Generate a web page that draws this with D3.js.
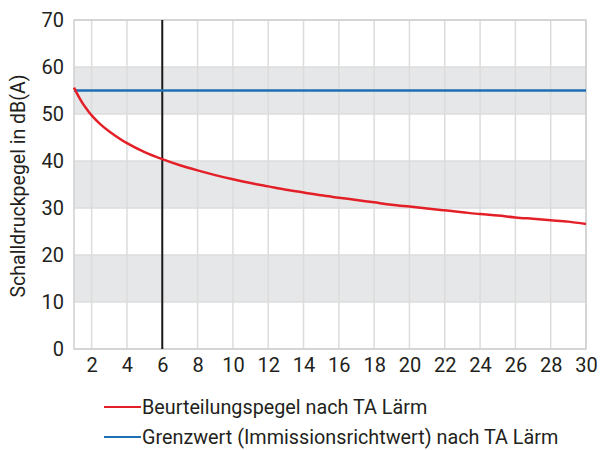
<!DOCTYPE html>
<html><head><meta charset="utf-8">
<script src="https://cdn.jsdelivr.net/npm/d3@7"></script>
<style>body{margin:0;background:#fff}</style>
</head><body>
<svg id="c" width="600" height="450"></svg>
<script>
const xValues = [1,1.25,1.5,1.75,2,2.5,3,4,5,6,7,8,9,10,11,12,13,14,15,16,17,18,19,20,21,22,23,24,25,26,27,28,29,30];
const beurteilungspegel = [55.6,53.8,52.2,50.9,49.7,47.8,46.3,43.8,41.9,40.4,39.1,38.0,37.0,36.1,35.3,34.6,33.9,33.3,32.7,32.2,31.7,31.2,30.7,30.3,29.9,29.5,29.1,28.7,28.4,28.0,27.7,27.4,27.1,26.6];
const grenzwert = 55;
const markerX = 6;
const xTicks = [2,4,6,8,10,12,14,16,18,20,22,24,26,28,30];
const yTicks = [0,10,20,30,40,50,60,70];
const bands = [[10,20],[30,40],[50,60]];
const legendLabels = ["Beurteilungspegel nach TA Lärm","Grenzwert (Immissionsrichtwert) nach TA Lärm"];
const yTitle = "Schalldruckpegel in dB(A)";

const font = "'Liberation Sans Narrow','Arial Narrow','Roboto',sans-serif";
const svg = d3.select("#c");
const L=74,R=586,T=20,B=349;
const x = d3.scaleLinear().domain([1,30]).range([L,R]);
const y = d3.scaleLinear().domain([0,70]).range([B,T]);

svg.selectAll(".band").data(bands).enter().append("rect")
  .attr("x",L).attr("width",R-L)
  .attr("y",d=>y(d[1])).attr("height",d=>y(d[0])-y(d[1]))
  .attr("fill","#e6e7e8");

svg.selectAll(".vg").data(xTicks).enter().append("line")
  .attr("x1",d=>x(d)).attr("x2",d=>x(d)).attr("y1",T).attr("y2",B)
  .attr("stroke","#dcdcdc").attr("stroke-width",1.5);
svg.selectAll(".hg").data(yTicks).enter().append("line")
  .attr("x1",L).attr("x2",R).attr("y1",d=>y(d)).attr("y2",d=>y(d))
  .attr("stroke","#dcdcdc").attr("stroke-width",1.5);
svg.append("rect").attr("x",L).attr("y",T).attr("width",R-L).attr("height",B-T)
  .attr("fill","none").attr("stroke","#cfcfcf").attr("stroke-width",1.5);

svg.append("line").attr("x1",x(markerX)).attr("x2",x(markerX)).attr("y1",T).attr("y2",B)
  .attr("stroke","#1a1a1a").attr("stroke-width",2);

svg.append("line").attr("x1",L).attr("x2",R).attr("y1",y(grenzwert)).attr("y2",y(grenzwert))
  .attr("stroke","#1f6fb5").attr("stroke-width",2.5);

const line = d3.line().x((d,i)=>x(xValues[i])).y(d=>y(d)).curve(d3.curveCatmullRom.alpha(0.5));
svg.append("path").datum(beurteilungspegel).attr("d",line)
  .attr("fill","none").attr("stroke","#e32028").attr("stroke-width",2.5);

// axes
const xAxis = svg.append("g").attr("transform",`translate(0,${B})`)
  .call(d3.axisBottom(x).tickValues(xTicks).tickSize(0).tickPadding(9));
xAxis.select(".domain").remove();
xAxis.selectAll("text").attr("font-family",font).attr("font-size",20).attr("fill","#231f20");
const yAxis = svg.append("g").attr("transform",`translate(${L},0)`)
  .call(d3.axisLeft(y).tickValues(yTicks).tickSize(0).tickPadding(10));
yAxis.select(".domain").remove();
yAxis.selectAll("text").attr("font-family",font).attr("font-size",20).attr("fill","#231f20");

svg.append("text").attr("transform","translate(25,186) rotate(-90)")
  .attr("text-anchor","middle").attr("font-family",font).attr("font-size",19.5).attr("fill","#231f20")
  .text(yTitle);

const colors = ["#e32028","#1f6fb5"];
legendLabels.forEach((t,i)=>{
  const ly = 407 + i*30;
  svg.append("line").attr("x1",104).attr("x2",141).attr("y1",ly).attr("y2",ly)
    .attr("stroke",colors[i]).attr("stroke-width",2);
  svg.append("text").attr("x",142).attr("y",ly+7).attr("font-family",font).attr("font-size",19.8)
    .attr("fill","#231f20").text(t);
});
</script>
</body></html>
